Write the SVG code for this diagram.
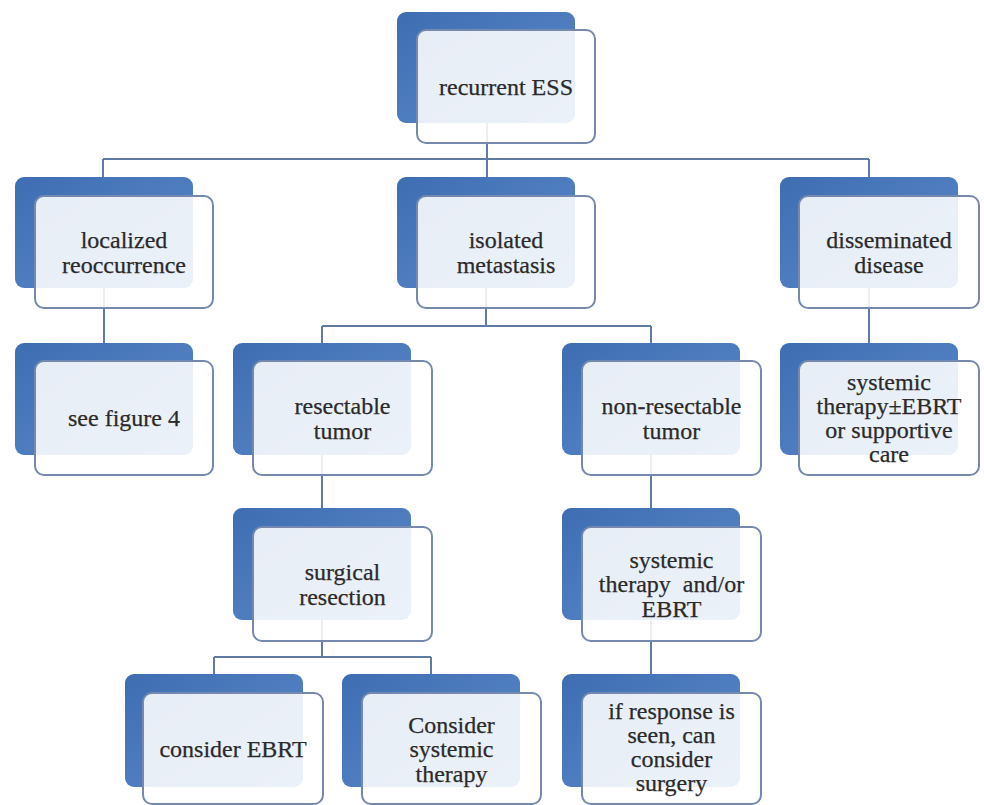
<svg xmlns="http://www.w3.org/2000/svg" width="984" height="805" viewBox="0 0 984 805">
<defs>
<linearGradient id="blueGrad" x1="0" y1="0" x2="1" y2="1">
<stop offset="0" stop-color="#3f6db2"/>
<stop offset="1" stop-color="#5c8bcb"/>
</linearGradient>
<style>
.back{fill:url(#blueGrad);}
.front{fill:#ffffff;fill-opacity:0.88;stroke:#7489ad;stroke-width:2;}
.lbl{font-family:"Liberation Serif","DejaVu Serif",serif;font-size:24px;fill:#2a2a2a;stroke:#2a2a2a;stroke-width:0.25;text-anchor:middle;}
.conn{fill:none;stroke:#5f7aa3;stroke-width:2;}
</style>
</defs>
<rect width="984" height="805" fill="#ffffff"/>
<g id="connectors">
<path class="conn" d="M487,123 V159 M103,159 H869 M103,159 V177 M487,159 V177 M869,159 V177"/>
<path class="conn" d="M104,288 V343"/>
<path class="conn" d="M486,288 V326 M322,326 H651 M322,326 V343 M651,326 V343"/>
<path class="conn" d="M869,288 V343"/>
<path class="conn" d="M322,455 V508 M651,455 V508"/>
<path class="conn" d="M322,620 V657 M214,657 H431 M214,657 V674 M431,657 V674"/>
<path class="conn" d="M651,620 V674"/>
</g>
<g id="recurrent-ess">
<rect class="back" x="397" y="12" width="178" height="111" rx="9"/>
<rect class="front" x="417" y="30" width="178" height="113" rx="9"/>
<text class="lbl" x="506" y="95">recurrent ESS</text>
</g>
<g id="localized-reoccurrence">
<rect class="back" x="15" y="177" width="178" height="111" rx="9"/>
<rect class="front" x="35" y="196" width="178" height="112" rx="9"/>
<text class="lbl" x="124" y="247.5">localized</text>
<text class="lbl" x="124" y="272.5">reoccurrence</text>
</g>
<g id="isolated-metastasis">
<rect class="back" x="397" y="177" width="178" height="111" rx="9"/>
<rect class="front" x="417" y="196" width="178" height="112" rx="9"/>
<text class="lbl" x="506" y="247.5">isolated</text>
<text class="lbl" x="506" y="272.5">metastasis</text>
</g>
<g id="disseminated-disease">
<rect class="back" x="780" y="177" width="178" height="111" rx="9"/>
<rect class="front" x="799" y="196" width="180" height="112" rx="9"/>
<text class="lbl" x="889" y="247.5">disseminated</text>
<text class="lbl" x="889" y="272.5">disease</text>
</g>
<g id="see-figure-4">
<rect class="back" x="15" y="343" width="178" height="112" rx="9"/>
<rect class="front" x="35" y="361" width="178" height="114" rx="9"/>
<text class="lbl" x="124" y="426">see figure 4</text>
</g>
<g id="resectable-tumor">
<rect class="back" x="233" y="343" width="178" height="112" rx="9"/>
<rect class="front" x="253" y="361" width="179" height="114" rx="9"/>
<text class="lbl" x="342.5" y="413.5">resectable</text>
<text class="lbl" x="342.5" y="438.5">tumor</text>
</g>
<g id="non-resectable-tumor">
<rect class="back" x="562" y="343" width="178" height="112" rx="9"/>
<rect class="front" x="582" y="361" width="179" height="114" rx="9"/>
<text class="lbl" x="671.5" y="413.5">non-resectable</text>
<text class="lbl" x="671.5" y="438.5">tumor</text>
</g>
<g id="systemic-ebrt-supportive">
<rect class="back" x="780" y="343" width="178" height="112" rx="9"/>
<rect class="front" x="799" y="361" width="180" height="114" rx="9"/>
<text class="lbl" x="889" y="390">systemic</text>
<text class="lbl" x="889" y="414">therapy±EBRT</text>
<text class="lbl" x="889" y="438">or supportive</text>
<text class="lbl" x="889" y="462">care</text>
</g>
<g id="surgical-resection">
<rect class="back" x="233" y="508" width="178" height="112" rx="9"/>
<rect class="front" x="253" y="527" width="179" height="114" rx="9"/>
<text class="lbl" x="342.5" y="579.5">surgical</text>
<text class="lbl" x="342.5" y="604.5">resection</text>
</g>
<g id="systemic-and-or-ebrt">
<rect class="back" x="562" y="508" width="178" height="112" rx="9"/>
<rect class="front" x="582" y="527" width="179" height="114" rx="9"/>
<text class="lbl" x="671.5" y="567.5">systemic</text>
<text class="lbl" x="671.5" y="592" xml:space="preserve">therapy  and/or</text>
<text class="lbl" x="671.5" y="616.5">EBRT</text>
</g>
<g id="consider-ebrt">
<rect class="back" x="125" y="674" width="178" height="113" rx="9"/>
<rect class="front" x="143" y="693" width="180" height="111" rx="9"/>
<text class="lbl" x="233" y="757">consider EBRT</text>
</g>
<g id="consider-systemic-therapy">
<rect class="back" x="342" y="674" width="178" height="113" rx="9"/>
<rect class="front" x="362" y="693" width="179" height="111" rx="9"/>
<text class="lbl" x="451.5" y="732.5">Consider</text>
<text class="lbl" x="451.5" y="757">systemic</text>
<text class="lbl" x="451.5" y="781.5">therapy</text>
</g>
<g id="if-response">
<rect class="back" x="562" y="674" width="178" height="113" rx="9"/>
<rect class="front" x="582" y="693" width="179" height="111" rx="9"/>
<text class="lbl" x="671.5" y="719">if response is</text>
<text class="lbl" x="671.5" y="743">seen, can</text>
<text class="lbl" x="671.5" y="767">consider</text>
<text class="lbl" x="671.5" y="791">surgery</text>
</g>
</svg>
